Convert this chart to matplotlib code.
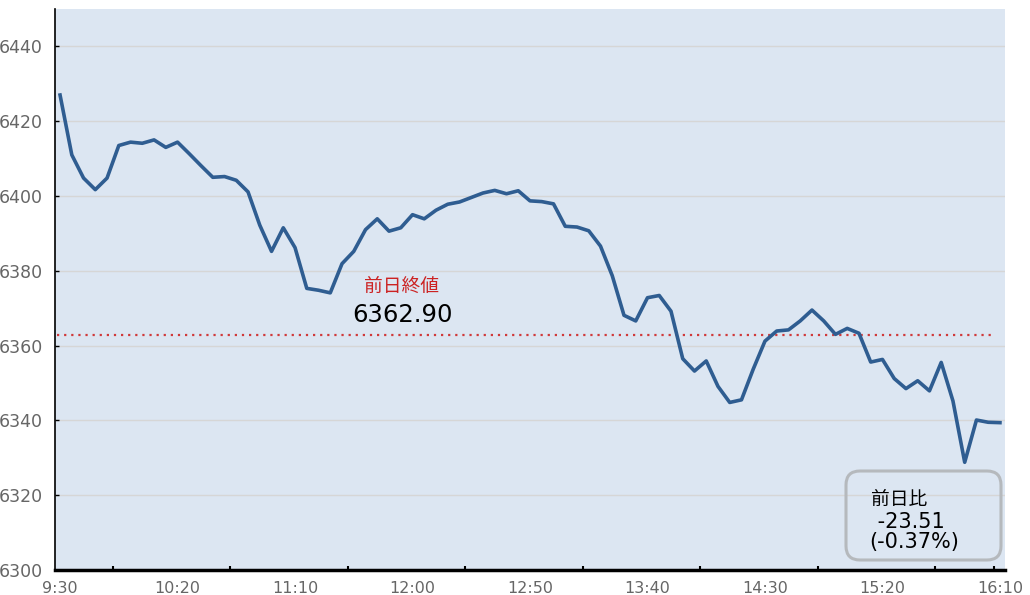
import matplotlib
matplotlib.use("Agg")
import matplotlib.pyplot as plt
from matplotlib.patches import FancyBboxPatch
from matplotlib.transforms import IdentityTransform

plt.rcParams['font.family'] = ['DejaVu Sans', 'Noto Sans CJK JP']

# 5-minute closes, 9:30 .. 16:10 (81 points)
values = [
    6427.0, 6411.0, 6404.8, 6401.7, 6404.8, 6413.5, 6414.4, 6414.1, 6415.0, 6413.0,
    6414.4, 6411.3, 6408.1, 6405.0, 6405.2, 6404.2, 6401.1, 6392.2, 6385.2, 6391.5,
    6386.2, 6375.3, 6374.8, 6374.1, 6381.9, 6385.2, 6391.0, 6393.9, 6390.6, 6391.5,
    6395.0, 6393.9, 6396.2, 6397.8, 6398.4, 6399.6, 6400.8, 6401.5, 6400.6, 6401.4,
    6398.7, 6398.5, 6397.9, 6391.9, 6391.7, 6390.7, 6386.6, 6378.7, 6368.1, 6366.6,
    6372.8, 6373.4, 6369.2, 6356.5, 6353.2, 6355.9, 6349.1, 6344.8, 6345.5, 6353.7,
    6361.2, 6363.9, 6364.2, 6366.6, 6369.5, 6366.6, 6363.0, 6364.6, 6363.3, 6355.6,
    6356.3, 6351.2, 6348.5, 6350.6, 6347.9, 6355.5, 6345.2, 6328.8, 6340.1, 6339.5,
    6339.4,
]
tick_labels = ['9:30', '10:20', '11:10', '12:00', '12:50', '13:40', '14:30', '15:20', '16:10']
prev_close = 6362.90
change = -23.51
change_pct = -0.37

W, H = 1030, 595
fig = plt.figure(figsize=(W / 100, H / 100), dpi=100)
fig.patch.set_facecolor('white')
ax = fig.add_axes([55 / W, 1 - 570 / H, (1005 - 55) / W, (570 - 9) / H])
ax.set_facecolor('#dce6f2')

x = list(range(len(values)))
ax.set_xlim(-0.43, 80.43)
ax.set_ylim(6300, 6450)

ax.set_yticks(range(6300, 6441, 20))
ax.grid(axis='y', color='#d6d6d6', linewidth=1.0)
ax.set_axisbelow(True)

ax.set_xticks(range(0, 81, 10))
ax.set_xticklabels(tick_labels)
ax.set_xticks([4.5 + 10 * k for k in range(8)] + [79.5], minor=True)
ax.tick_params(axis='x', which='major', length=0, pad=8, labelsize=11.5, labelcolor='#666666')
ax.tick_params(axis='x', which='minor', direction='in', length=3, width=1.5, color='black')
ax.tick_params(axis='y', direction='in', length=3, width=1, color='black', pad=9,
               labelsize=12.5, labelcolor='#666666')

for s in ('top', 'right'):
    ax.spines[s].set_visible(False)
ax.spines['left'].set_linewidth(1.2)
ax.spines['bottom'].set_linewidth(2.5)

ax.plot([-0.3, 79.6], [prev_close, prev_close], color='#d0393a', linewidth=1.6,
        linestyle=(0, (1, 2.2)), zorder=2)
ax.plot(x, values, color='#2f5d91', linewidth=2.6, solid_joinstyle='round', zorder=3)

ax.text(29.08, 6375.9, '前日終値', color='#cc2222', fontsize=13.5,
        ha='center', va='center', family=['Noto Sans CJK JP'])
ax.text(29.17, 6368.1, f'{prev_close:.2f}', color='black', fontsize=17.5,
        ha='center', va='center')

box = FancyBboxPatch((846, H - 560), 155, 89,
                     boxstyle='round,pad=0,rounding_size=14',
                     transform=IdentityTransform(), facecolor='none',
                     edgecolor='#b5b9bd', linewidth=2.2, zorder=4)
fig.patches.append(box)
fig.text(871 / W, 1 - 499 / H, '前日比', fontsize=13.5, ha='left', va='center',
         family=['Noto Sans CJK JP'], color='black')
fig.text(871 / W, 1 - 521.5 / H, f' {change:.2f}', fontsize=15, ha='left', va='center',
         color='black')
fig.text(869 / W, 1 - 542 / H, f'({change_pct:.2f}%)', fontsize=15, ha='left', va='center',
         color='black')

fig.savefig('out.png', dpi=100)
